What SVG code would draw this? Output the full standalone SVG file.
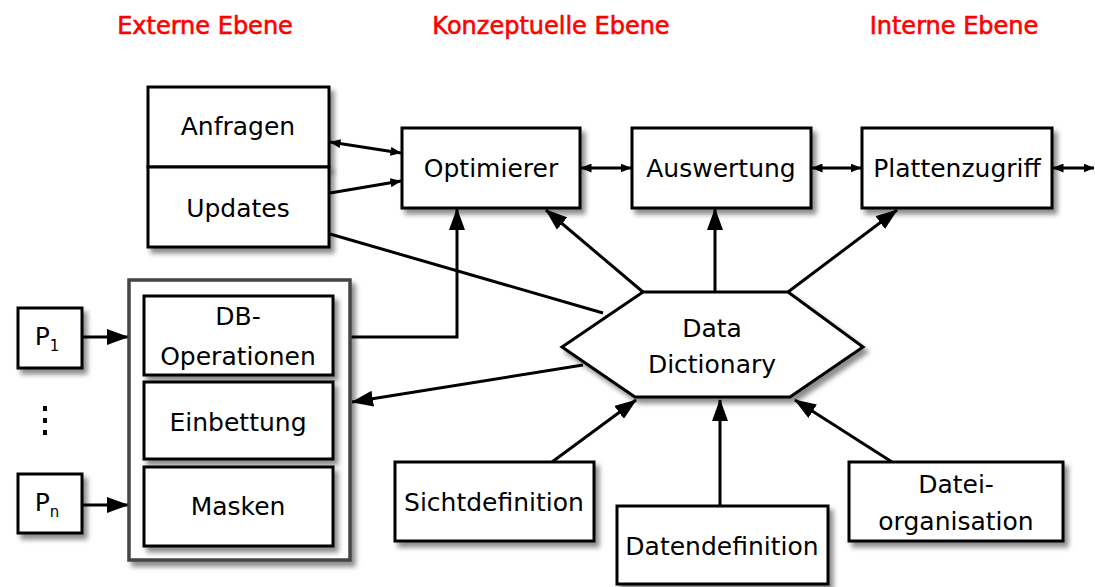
<svg xmlns="http://www.w3.org/2000/svg" width="1095" height="587" viewBox="0 0 1095 587">
<defs>
<filter id="sh" x="-20%" y="-20%" width="150%" height="160%">
<feDropShadow dx="4" dy="5" stdDeviation="2.5" flood-color="#000" flood-opacity="0.45"/>
</filter>
<marker id="big" viewBox="0 0 22 16" refX="21" refY="8" markerWidth="22" markerHeight="16" markerUnits="userSpaceOnUse" orient="auto-start-reverse">
<path d="M0,0 L22,8 L0,16 z" fill="#000"/>
</marker>
<marker id="sm" viewBox="0 0 11 9" refX="10.5" refY="4.5" markerWidth="11" markerHeight="9" markerUnits="userSpaceOnUse" orient="auto-start-reverse">
<path d="M0,0 L11,4.5 L0,9 z" fill="#000"/>
</marker>
</defs>
<style>
.box{fill:#fff;stroke:#000;stroke-width:3}
.t{font-family:"DejaVu Sans",sans-serif;font-size:25px;fill:#000;text-anchor:middle}
.h{font-family:"DejaVu Sans",sans-serif;font-size:24px;fill:#f00;stroke:#f00;stroke-width:0.6;text-anchor:middle}
.c{fill:none;stroke:#000;stroke-width:3}
</style>
<rect width="1095" height="587" fill="#fff"/>

<g id="headers">
<text class="h" x="205" y="34">Externe Ebene</text>
<text class="h" x="551" y="34">Konzeptuelle Ebene</text>
<text class="h" x="954" y="34">Interne Ebene</text>
</g>

<g id="connectors">
<path class="c" d="M330,142 L401,153" marker-start="url(#sm)" marker-end="url(#sm)"/>
<path class="c" d="M330,193 L401,181" marker-end="url(#sm)"/>
<path class="c" d="M330,234 L603,313"/>
<path class="c" d="M350,337 L457,337 L457,209" marker-end="url(#big)"/>
<path class="c" d="M643,292 L546,210" marker-end="url(#big)"/>
<path class="c" d="M715,292 L715,209" marker-end="url(#big)"/>
<path class="c" d="M788,292 L897,210" marker-end="url(#big)"/>
<path class="c" d="M581,168 L631,168" marker-start="url(#sm)" marker-end="url(#sm)"/>
<path class="c" d="M812,168 L861,168" marker-start="url(#sm)" marker-end="url(#sm)"/>
<path class="c" d="M1053,168 L1094,168" marker-start="url(#sm)" marker-end="url(#sm)"/>
<path class="c" d="M583,365 L352,402" marker-end="url(#big)"/>
<path class="c" d="M552,462 L636,400" marker-end="url(#big)"/>
<path class="c" d="M720,506 L720,400" marker-end="url(#big)"/>
<path class="c" d="M892,462 L795,400" marker-end="url(#big)"/>
<path class="c" d="M82,337 L128,337" marker-end="url(#big)"/>
<path class="c" d="M82,505 L128,505" marker-end="url(#big)"/>
</g>

<g id="anfragen">
<rect class="box" x="148" y="87" width="181" height="80" filter="url(#sh)"/>
<text class="t" x="238" y="135">Anfragen</text>
</g>
<g id="updates">
<rect class="box" x="148" y="167" width="181" height="80" filter="url(#sh)"/>
<text class="t" x="238" y="217">Updates</text>
</g>

<g id="optimierer">
<rect class="box" x="402" y="128" width="178" height="80" filter="url(#sh)"/>
<text class="t" x="491" y="177">Optimierer</text>
</g>
<g id="auswertung">
<rect class="box" x="632" y="128" width="179" height="80" filter="url(#sh)"/>
<text class="t" x="721" y="177">Auswertung</text>
</g>
<g id="plattenzugriff">
<rect class="box" x="862" y="128" width="190" height="80" filter="url(#sh)"/>
<text class="t" x="957" y="177">Plattenzugriff</text>
</g>

<g id="container">
<rect x="129" y="280" width="221" height="280" fill="#fff" stroke="#444" stroke-width="3.5" filter="url(#sh)"/>
</g>
<g id="dbops">
<rect class="box" x="144" y="296" width="189" height="79" filter="url(#sh)"/>
<text class="t" x="238" y="325">DB-</text>
<text class="t" x="238" y="365">Operationen</text>
</g>
<g id="einbettung">
<rect class="box" x="144" y="382" width="189" height="77" filter="url(#sh)"/>
<text class="t" x="238" y="431">Einbettung</text>
</g>
<g id="masken">
<rect class="box" x="144" y="467" width="189" height="79" filter="url(#sh)"/>
<text class="t" x="238" y="515">Masken</text>
</g>

<g id="p1">
<rect class="box" x="18" y="308" width="64" height="60" filter="url(#sh)"/>
<text class="t" x="47" y="345">P<tspan font-size="15" dy="6">1</tspan></text>
</g>
<g id="dots">
<rect x="43" y="406" width="4" height="5" fill="#000"/>
<rect x="43" y="418" width="4" height="5" fill="#000"/>
<rect x="43" y="430" width="4" height="5" fill="#000"/>
</g>
<g id="pn">
<rect class="box" x="18" y="474" width="64" height="59" filter="url(#sh)"/>
<text class="t" x="47" y="511">P<tspan font-size="15" dy="6">n</tspan></text>
</g>

<g id="datadictionary">
<polygon class="box" points="643,292 788,292 863,347 790,397 635,397 562,347" filter="url(#sh)"/>
<text class="t" x="712" y="337">Data</text>
<text class="t" x="712" y="373">Dictionary</text>
</g>

<g id="sichtdefinition">
<rect class="box" x="395" y="462" width="199" height="79" filter="url(#sh)"/>
<text class="t" x="494" y="511">Sichtdefinition</text>
</g>
<g id="datendefinition">
<rect class="box" x="617" y="506" width="211" height="78" filter="url(#sh)"/>
<text class="t" x="722" y="555">Datendefinition</text>
</g>
<g id="dateiorganisation">
<rect class="box" x="849" y="462" width="214" height="79" filter="url(#sh)"/>
<text class="t" x="956" y="493">Datei-</text>
<text class="t" x="956" y="530">organisation</text>
</g>
</svg>
